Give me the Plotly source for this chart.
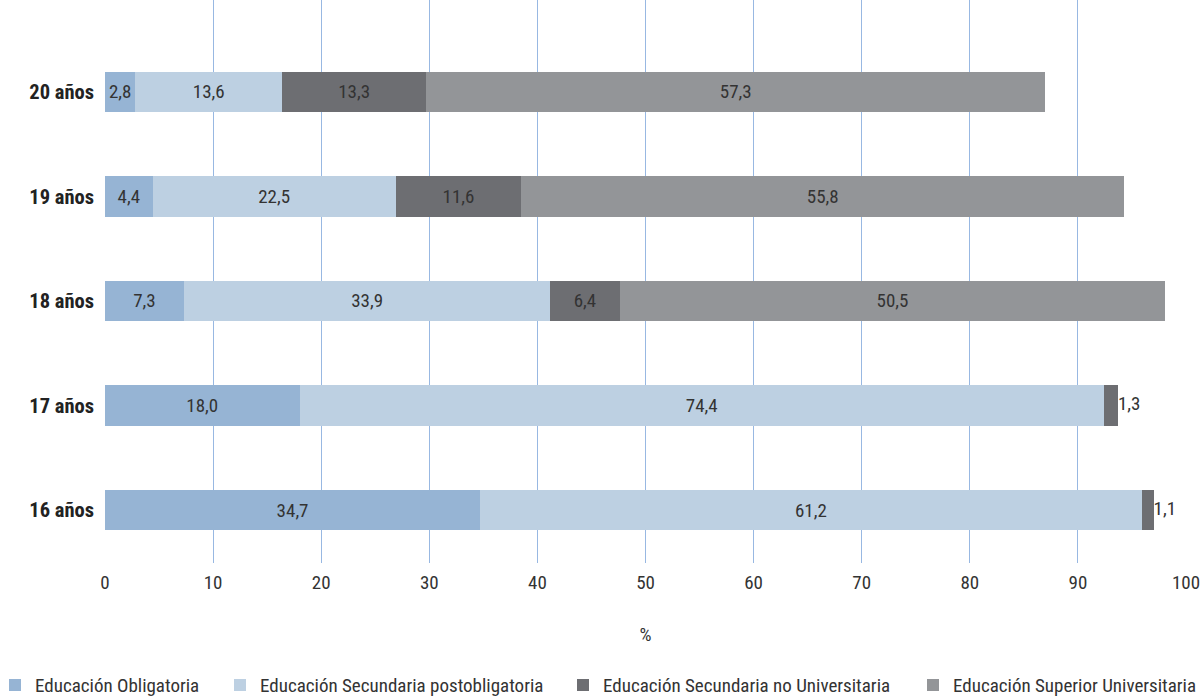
import plotly.graph_objects as go

categories = ["16 años", "17 años", "18 años", "19 años", "20 años"]
series_names = [
    "Educación Obligatoria",
    "Educación Secundaria postobligatoria",
    "Educación Secundaria no Universitaria",
    "Educación Superior Universitaria",
]
obligatoria = [34.7, 18.0, 7.3, 4.4, 2.8]
postobligatoria = [61.2, 74.4, 33.9, 22.5, 13.6]
no_universitaria = [1.1, 1.3, 6.4, 11.6, 13.3]
universitaria = [None, None, 50.5, 55.8, 57.3]
colors = ["#96b4d4", "#bdd0e2", "#6d6e72", "#939598"]
x_ticks = [0, 10, 20, 30, 40, 50, 60, 70, 80, 90, 100]

FONT = "Liberation Sans Narrow, Arial Narrow, Roboto Condensed, Roboto, sans-serif"
TXT = "#333333"

def fmt(v):
    return "" if v is None else f"{v:.1f}".replace(".", ",")

L, R, T, B = 105, 16, 0, 134
PW = 1202 - L - R
PH = 697 - T - B

fig = go.Figure()
all_series = [obligatoria, postobligatoria, no_universitaria, universitaria]
legend_ids = ["legend", "legend2", "legend3", "legend4"]
for i, (name, vals) in enumerate(zip(series_names, all_series)):
    texts = []
    for j, v in enumerate(vals):
        if i == 2 and universitaria[j] is None:
            texts.append("")
        else:
            texts.append(fmt(v))
    fig.add_trace(go.Bar(
        y=categories, x=vals, name=name, orientation="h",
        marker=dict(color=colors[i], line=dict(width=0)),
        text=texts, textposition="inside", insidetextanchor="middle",
        constraintext="none", textangle=0,
        textfont=dict(family=FONT, size=19, color=TXT),
        width=0.39, legend=legend_ids[i], hoverinfo="skip",
    ))

# outside labels for stacks ending with the "no Universitaria" segment
out_x, out_y, out_t = [], [], []
for j, c in enumerate(categories):
    if universitaria[j] is None:
        out_x.append(obligatoria[j] + postobligatoria[j] + no_universitaria[j])
        out_y.append(c)
        out_t.append(fmt(no_universitaria[j]))
fig.add_trace(go.Scatter(
    x=out_x, y=out_y, text=out_t, mode="text", textposition="middle right",
    textfont=dict(family=FONT, size=19, color=TXT), showlegend=False,
    hoverinfo="skip", cliponaxis=False,
))

# legend left edges in pixels (text begins ~40px after)
legend_px = [-5, 220, 563, 913]
layout_legends = {}
for k, lid in enumerate(legend_ids):
    layout_legends[lid] = dict(
        x=(legend_px[k] - L) / PW, y=-0.217, xref="paper", yref="paper",
        xanchor="left", yanchor="middle", orientation="h",
        font=dict(family=FONT, size=19, color=TXT),
        bgcolor="rgba(0,0,0,0)", itemwidth=30,
    )

fig.update_layout(
    barmode="stack",
    width=1202, height=697,
    margin=dict(l=L, r=R, t=T, b=B, autoexpand=False),
    plot_bgcolor="white", paper_bgcolor="white",
    font=dict(family=FONT, size=19, color=TXT),
    xaxis=dict(
        range=[0, 100], tickvals=x_ticks, ticktext=[str(t) for t in x_ticks],
        showgrid=True, gridcolor="#98b8e2", gridwidth=1, zeroline=False,
        showline=False, ticks="", ticklabelstandoff=6, automargin=False,
        tickfont=dict(family=FONT, size=19, color=TXT),
        title=dict(text="%", font=dict(family=FONT, size=19, color=TXT), standoff=34),
    ),
    yaxis=dict(
        categoryorder="array", categoryarray=categories,
        range=[-0.507, 4.88], showgrid=False, zeroline=False, showline=False,
        ticks="", ticklabelstandoff=10, automargin=False,
        tickfont=dict(family=FONT, size=20.5, color="#222222", weight="bold"),
    ),
    showlegend=True,
    **layout_legends,
)

fig.write_html("out.html", config={"displayModeBar": False},
               post_script="document.body.style.margin='0';")
